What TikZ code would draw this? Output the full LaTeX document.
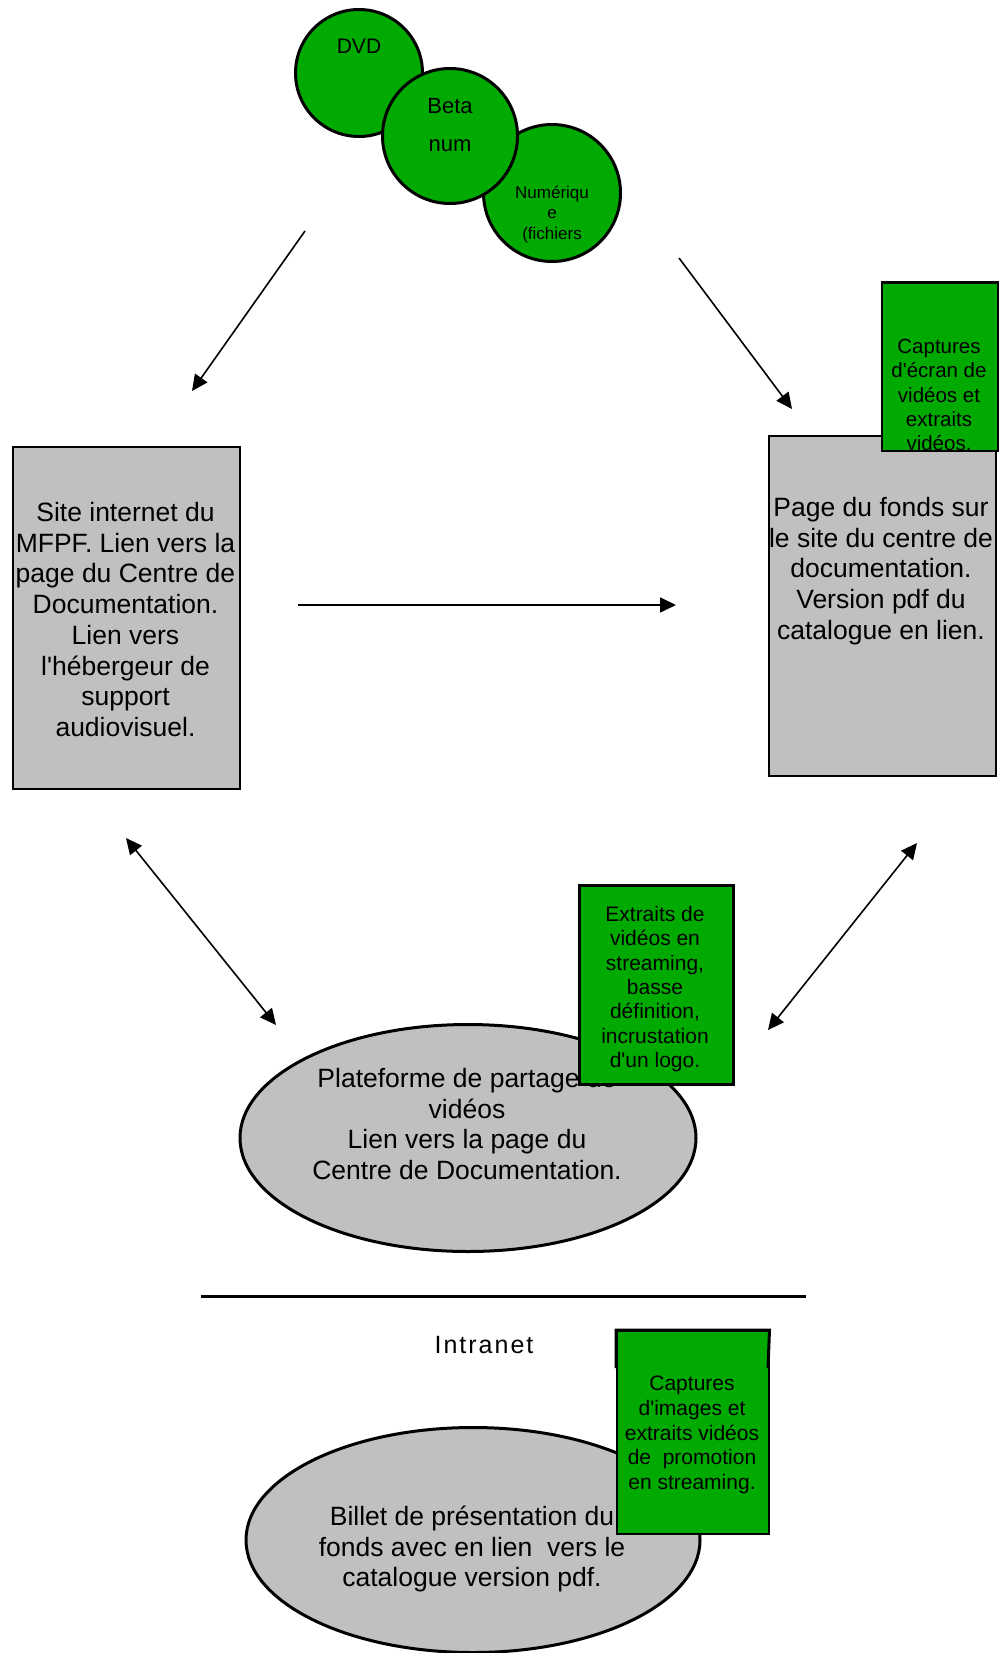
\documentclass[tikz,border=0pt]{standalone}
\usepackage{fontspec}
\setmainfont{Liberation Sans}[Ligatures=TeXOff]
\usetikzlibrary{arrows.meta,shapes.geometric}
\definecolor{grn}{RGB}{0,170,0}
\definecolor{gry}{RGB}{192,192,192}
\begin{document}
\begin{tikzpicture}[x=1pt,y=-1pt,
  disc/.style={circle,draw,line width=3pt,fill=grn,inner sep=0pt},
  graybox/.style={rectangle,draw,line width=1.5pt,fill=gry,inner sep=0pt,anchor=north west},
  greenbox/.style={rectangle,draw,line width=2pt,fill=grn,inner sep=0pt,anchor=north west},
  oval/.style={ellipse,draw,line width=3pt,fill=gry,inner sep=0pt},
  big/.style={font=\fontsize{26.5}{30.7}\selectfont,align=center},
  small/.style={font=\fontsize{20.5}{24.4}\selectfont,align=center},
  arr/.style={line width=1.6pt,-{Triangle[length=16pt,width=15pt]}},
  darr/.style={line width=1.6pt,{Triangle[length=16pt,width=15pt]}-{Triangle[length=16pt,width=15pt]}}]
\useasboundingbox (0,0) rectangle (998,1653);

% source circles
\node[disc,minimum size=127pt] (dvd) at (359,73) {};
\node[disc,minimum size=137pt] (num) at (552,193) {};
\node[disc,minimum size=135pt] (beta) at (450,136) {};
\node[font=\fontsize{21}{24}\selectfont] (tdvd) at (359,46) {DVD};
\node[font=\fontsize{22}{24}\selectfont] (tbeta) at (450,106) {Beta};
\node[font=\fontsize{22}{24}\selectfont] (tnum) at (450,146) {num};
\node[font=\fontsize{17}{20.5}\selectfont,align=center] (tfich) at (552,214.5) {Numériqu\\e\\(fichiers};

% left box
\node[graybox,minimum width=227pt,minimum height=342pt] (site) at (12,446) {};
\node[big] (tsite) at (125.5,619.5)
  {Site internet du\\MFPF. Lien vers la\\page du Centre de\\Documentation.\\Lien vers\\l'hébergeur de\\support\\audiovisuel.};

% right box
\node[graybox,minimum width=227pt,minimum height=340pt] (page) at (768,435) {};
\node[big] (tpage) at (881,571) {Page du fonds sur\\le site du centre de\\documentation.\\Version pdf du\\catalogue en lien.};

% top right green box
\node[greenbox,minimum width=116pt,minimum height=168pt] (capt) at (881,282) {};
\draw[line width=3pt] (capt.north west) -- (capt.north east);
\begin{scope}
  \clip (881,282) rectangle (997,450);
  \node[small] (tcapt) at (939,395) {Captures\\d'écran de\\vidéos et\\extraits\\vidéos.};
\end{scope}

% middle ellipse
\node[oval,minimum width=456pt,minimum height=227pt] (plat) at (468,1138) {};
\node[big] (tplat) at (467,1124) {Plateforme de partage de\\vidéos\\Lien vers la page du\\Centre de Documentation.};
\node[greenbox,line width=3pt,minimum width=154pt,minimum height=199pt] (extr) at (578,884) {};
\node[font=\fontsize{21}{24.4}\selectfont,align=center] (textr) at (655,989)
  {Extraits de\\vidéos en\\streaming,\\basse\\définition,\\incrustation\\d'un logo.};

% separator
\coordinate (sepL) at (201,1296);
\coordinate (sepR) at (806,1296);
\draw[line width=3pt] (sepL) -- (sepR);
\node[font=\fontsize{25}{28}\selectfont\addfontfeature{LetterSpace=8}] (intra) at (484,1345) {Intranet};

% bottom ellipse
\node[oval,minimum width=454pt,minimum height=225pt] (billet) at (473,1540) {};
\node[big] (tbillet) at (472,1549) {Billet de présentation du\\fonds avec en lien\ \ vers le\\catalogue version pdf.};
\node[greenbox,line width=1.5pt,minimum width=152pt,minimum height=203pt] (promo) at (616,1330) {};
\node[font=\fontsize{21}{24.6}\selectfont,align=center] (tpromo) at (692,1435)
  {Captures\\d'images et\\extraits vidéos\\de\ \ promotion\\en streaming.};
\draw[line width=3pt] (616,1368) -- (promo.north west) -- (promo.north east) -- (768,1368);

% arrows
\coordinate (a1s) at (305,231); \coordinate (a1e) at (192,391);
\coordinate (a2s) at (679,258); \coordinate (a2e) at (792,409);
\coordinate (a3s) at (298,605); \coordinate (a3e) at (676,605);
\coordinate (a4s) at (126,838); \coordinate (a4e) at (276,1025);
\coordinate (a5s) at (917,843); \coordinate (a5e) at (768,1030);
\draw[arr] (a1s) -- (a1e);
\draw[arr] (a2s) -- (a2e);
\draw[arr] (a3s) -- (a3e);
\draw[darr] (a4s) -- (a4e);
\draw[darr] (a5s) -- (a5e);
\end{tikzpicture}
\end{document}
